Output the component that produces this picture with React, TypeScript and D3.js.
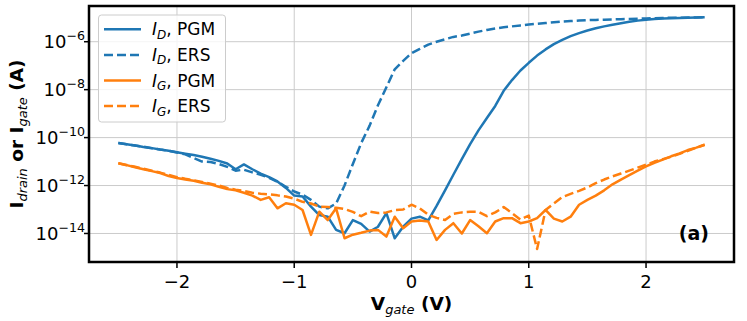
import React, { useEffect, useRef } from 'react';
import * as d3 from 'd3';

// gate sweep (V)
const vGate = [-2.5, -2.429, -2.357, -2.286, -2.214, -2.143, -2.071, -2.0, -1.929, -1.857, -1.786, -1.714, -1.643, -1.571,
  -1.5, -1.429, -1.357, -1.286, -1.214, -1.143, -1.071, -1.0, -0.929, -0.857, -0.786, -0.714, -0.643, -0.571,
  -0.5, -0.429, -0.357, -0.286, -0.214, -0.143, -0.071, 0, 0.071, 0.143, 0.214, 0.286, 0.357, 0.429,
  0.5, 0.571, 0.643, 0.714, 0.786, 0.857, 0.929, 1.0, 1.071, 1.143, 1.214, 1.286, 1.357, 1.429,
  1.5, 1.571, 1.643, 1.714, 1.786, 1.857, 1.929, 2.0, 2.071, 2.143, 2.214, 2.286, 2.357, 2.429, 2.5]

// log10 of current (A)
const logIdPgm = [-10.23, -10.28, -10.33, -10.39, -10.44, -10.5, -10.55, -10.61,
  -10.67, -10.73, -10.8, -10.88, -10.97, -11.08,
  -11.32, -11.12, -11.32, -11.5, -11.65, -11.83, -12.1,
  -12.42, -12.46, -12.88, -13.23, -13.3, -13.85, -13.99,
  -13.44, -13.6, -13.92, -13.72, -13.15, -14.2, -13.72, -13.38,
  -13.3, -13.45, -12.85, -12.2, -11.55, -10.9, -10.27,
  -9.7, -9.18, -8.68, -8.05, -7.6, -7.2, -6.88,
  -6.58, -6.32, -6.1, -5.92, -5.77, -5.64, -5.53,
  -5.44, -5.36, -5.29, -5.23, -5.17, -5.12, -5.08,
  -5.05, -5.03, -5.02, -5.01, -5.0, -4.99, -4.98]

const logIdErs = [-10.23, -10.28, -10.33, -10.38, -10.44, -10.5, -10.55, -10.62,
  -10.7, -10.85, -11.0, -11.02, -11.1, -11.22,
  -11.38, -11.34, -11.45, -11.55, -11.68, -11.85, -12.05,
  -12.25, -12.38, -12.6, -12.88, -12.95, -12.75, -12.0,
  -11.1, -10.23, -9.5, -8.65, -7.9, -7.15, -6.8, -6.48,
  -6.3, -6.12, -6.0, -5.9, -5.8, -5.74, -5.66,
  -5.58, -5.51, -5.45, -5.4, -5.36, -5.32, -5.28,
  -5.25, -5.22, -5.19, -5.16, -5.14, -5.12, -5.1,
  -5.09, -5.08, -5.07, -5.06, -5.05, -5.04, -5.03,
  -5.02, -5.01, -5.0, -5.0, -4.99, -4.99, -4.98]

const logIgPgm = [-11.07, -11.15, -11.24, -11.32, -11.4, -11.48, -11.6, -11.69,
  -11.75, -11.8, -11.88, -11.95, -12.05, -12.15,
  -12.2, -12.3, -12.42, -12.6, -12.49, -12.95, -12.74,
  -12.8, -13.02, -14.06, -13.09, -13.44, -12.95, -14.2,
  -14.05, -13.97, -13.88, -13.85, -14.13, -13.3, -13.78, -13.5,
  -13.46, -13.5, -14.27, -13.85, -13.57, -14.0, -13.44,
  -13.7, -13.99, -13.5, -13.36, -13.36, -13.57, -13.5,
  -13.36, -13.02, -13.38, -13.5, -13.3, -12.8, -12.6,
  -12.42, -12.2, -11.95, -11.75, -11.57, -11.38, -11.2,
  -11.05, -10.92, -10.78, -10.66, -10.52, -10.42, -10.3]

const logIgErs = [-11.07, -11.14, -11.22, -11.3, -11.38, -11.46, -11.55, -11.65,
  -11.72, -11.78, -11.85, -11.92, -12.0, -12.1,
  -12.17, -12.23, -12.3, -12.34, -12.37, -12.41, -12.46,
  -12.55, -12.68, -12.75, -12.88, -12.9, -12.93, -12.98,
  -13.1, -13.28, -13.09, -13.15, -13.12, -13.03, -13.0, -12.8,
  -12.95, -13.22, -13.35, -13.44, -13.18, -13.12, -13.09,
  -13.1, -13.28, -13.12, -12.9, -13.15, -13.42, -13.25,
  -14.65, -13.02, -12.75, -12.48, -12.35, -12.22, -12.08,
  -11.9, -11.75, -11.62, -11.5, -11.38, -11.25, -11.13,
  -11.0, -10.9, -10.8, -10.68, -10.55, -10.42, -10.3]

const xTicks = [-2, -1, 0, 1, 2]
const yTickExps = [-14, -12, -10, -8, -6]

const series = [
  { name: 'D', mode: 'PGM', values: logIdPgm, color: '#1f77b4', dash: null },
  { name: 'D', mode: 'ERS', values: logIdErs, color: '#1f77b4', dash: '9,4' },
  { name: 'G', mode: 'PGM', values: logIgPgm, color: '#ff7f0e', dash: null },
  { name: 'G', mode: 'ERS', values: logIgErs, color: '#ff7f0e', dash: '9,4' },
]

const W = 747
const H = 321
const m = { left: 89, top: 6, right: 734, bottom: 262 }
const FONT = 'DejaVu Sans'

export default function App() {
  const svgRef = useRef<SVGSVGElement>(null)

  useEffect(() => {
    const svg = d3.select(svgRef.current)
    svg.selectAll('*').remove()

    const x = d3.scaleLinear().domain([-2.75, 2.75]).range([m.left, m.right])
    const y = d3.scaleLog().domain([Math.pow(10, -15.19), Math.pow(10, -4.51)]).range([m.bottom, m.top])

    // grid
    const grid = svg.append('g').attr('stroke', '#cbcbcb').attr('stroke-width', 1)
    xTicks.forEach(t => {
      grid.append('line').attr('x1', x(t)).attr('x2', x(t)).attr('y1', m.top).attr('y2', m.bottom)
    })
    yTickExps.forEach(e => {
      const yy = y(Math.pow(10, e))
      grid.append('line').attr('x1', m.left).attr('x2', m.right).attr('y1', yy).attr('y2', yy)
    })

    // curves
    const line = d3.line<number>()
      .x((d, i) => x(vGate[i]))
      .y(d => y(Math.pow(10, d)))

    series.forEach(s => {
      svg.append('path')
        .attr('d', line(s.values))
        .attr('fill', 'none')
        .attr('stroke', s.color)
        .attr('stroke-width', 2.5)
        .attr('stroke-dasharray', s.dash)
        .attr('stroke-linejoin', 'round')
    })

    // spines
    svg.append('rect')
      .attr('x', m.left).attr('y', m.top)
      .attr('width', m.right - m.left).attr('height', m.bottom - m.top)
      .attr('fill', 'none').attr('stroke', '#000').attr('stroke-width', 2.5)

    // x ticks
    xTicks.forEach(t => {
      svg.append('line').attr('x1', x(t)).attr('x2', x(t))
        .attr('y1', m.bottom).attr('y2', m.bottom + 6)
        .attr('stroke', '#000').attr('stroke-width', 1.5)
      svg.append('text').attr('x', x(t)).attr('y', m.bottom + 26)
        .attr('text-anchor', 'middle').attr('font-family', FONT).attr('font-size', 18)
        .text(t < 0 ? '\u2212' + Math.abs(t) : String(t))
    })

    // y ticks
    yTickExps.forEach(e => {
      const yy = y(Math.pow(10, e))
      svg.append('line').attr('x1', m.left - 5).attr('x2', m.left)
        .attr('y1', yy).attr('y2', yy)
        .attr('stroke', '#000').attr('stroke-width', 1.5)
      const t = svg.append('text').attr('x', m.left - 4).attr('y', yy + 6.5)
        .attr('text-anchor', 'end').attr('font-family', FONT).attr('font-size', 18)
      t.append('tspan').text('10')
      t.append('tspan').attr('font-size', 12.6).attr('dy', -8).text('\u2212' + Math.abs(e))
    })

    // axis labels
    const xl = svg.append('text').attr('x', (m.left + m.right) / 2).attr('y', 310)
      .attr('text-anchor', 'middle').attr('font-family', FONT).attr('font-size', 18.5).attr('font-weight', 'bold')
    xl.append('tspan').text('V')
    xl.append('tspan').attr('font-size', 13).attr('font-style', 'italic').attr('font-weight', 'normal').attr('dy', 4).text('gate')
    xl.append('tspan').attr('dy', -4).text(' (V)')

    const yl = svg.append('text')
      .attr('transform', `translate(23,${(m.top + m.bottom) / 2}) rotate(-90)`)
      .attr('text-anchor', 'middle').attr('font-family', FONT).attr('font-size', 18.5).attr('font-weight', 'bold')
    yl.append('tspan').text('I')
    yl.append('tspan').attr('font-size', 13).attr('font-style', 'italic').attr('font-weight', 'normal').attr('dy', 4).text('drain')
    yl.append('tspan').attr('dy', -4).text(' or I')
    yl.append('tspan').attr('font-size', 13).attr('font-style', 'italic').attr('font-weight', 'normal').attr('dy', 4).text('gate')
    yl.append('tspan').attr('dy', -4).text(' (A)')

    // panel tag
    svg.append('text').attr('x', 709).attr('y', 240).attr('text-anchor', 'end')
      .attr('font-family', FONT).attr('font-size', 19).attr('font-weight', 'bold').text('(a)')

    // legend
    const lg = svg.append('g')
    lg.append('rect').attr('x', 98.5).attr('y', 15).attr('width', 127).attr('height', 107)
      .attr('rx', 3).attr('fill', 'white').attr('fill-opacity', 0.8)
      .attr('stroke', '#cccccc').attr('stroke-width', 1)
    series.forEach((s, i) => {
      const ry = 29.3 + i * 25.6
      lg.append('line').attr('x1', 104).attr('x2', 141).attr('y1', ry).attr('y2', ry)
        .attr('stroke', s.color).attr('stroke-width', 2.5).attr('stroke-dasharray', s.dash)
      const t = lg.append('text').attr('x', 152).attr('y', ry + 6)
        .attr('font-family', FONT).attr('font-size', 17)
      t.append('tspan').attr('font-style', 'italic').text('I')
      t.append('tspan').attr('font-style', 'italic').attr('font-size', 12).attr('dy', 3.5).text(s.name)
      t.append('tspan').attr('dy', -3.5).text(', ' + s.mode)
    })
  }, [])

  return (
    <svg ref={svgRef} width={W} height={H} style={{ position: 'absolute', left: 0, top: 0, background: 'white' }}></svg>
  )
}
